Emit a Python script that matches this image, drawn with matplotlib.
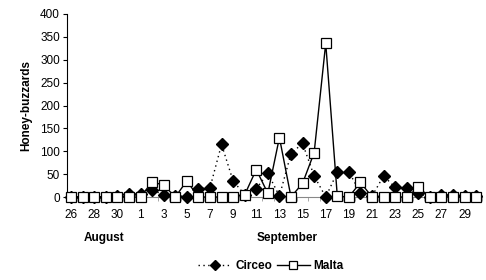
import matplotlib
matplotlib.use("Agg")
import matplotlib.pyplot as plt
import numpy as np

days = [26, 27, 28, 29, 30, 31] + list(range(1, 31))
circeo = [0, 0, 0, 0, 3, 7, 7, 15, 5, 3, 0, 18, 20, 115, 35, 5, 18, 52, 2, 95,
          117, 46, 0, 54, 55, 9, 2, 46, 21, 20, 8, 0, 5, 5, 3, 2]
malta = [0, 0, 0, 0, 0, 0, 0, 33, 26, 0, 35, 0, 0, 0, 0, 5, 60, 8, 130, 0,
         30, 97, 336, 2, 0, 32, 0, 0, 0, 0, 21, 0, 0, 0, 0, 0]
tick_labels = [str(d) for d in days]
months = ["August", "September"]
yticks = [0, 50, 100, 150, 200, 250, 300, 350, 400]

plt.rcParams['font.family'] = ['Liberation Sans', 'DejaVu Sans']

fig = plt.figure(figsize=(4.86, 2.80), dpi=100)
ax = fig.add_axes([67/486, 1 - 197/280, (482-67)/486, (197-14)/280])

x = np.arange(len(days))
ax.plot(x, circeo, linestyle=(0, (1, 2.5)), color='black', linewidth=1.0,
        marker='D', markersize=6.5, markerfacecolor='black', markeredgecolor='black',
        clip_on=False, zorder=3, label='Circeo')
ax.plot(x, malta, linestyle='-', color='black', linewidth=1.0,
        marker='s', markersize=7, markerfacecolor='white', markeredgecolor='black',
        markeredgewidth=0.9, clip_on=False, zorder=4, label='Malta')

ax.set_xlim(-0.35, 35.5)
ax.set_ylim(0, 400)
ax.set_yticks(yticks)
ax.set_yticklabels([str(v) for v in yticks], fontsize=8.5)
ax.set_xticks(x[::2])
ax.set_xticklabels(tick_labels[::2], fontsize=8.5)
ax.set_xticks(x + 0.5, minor=True)
ax.tick_params(axis='x', which='major', length=0, pad=9)
ax.tick_params(axis='x', which='minor', length=3, color='#999999', direction='out')
ax.tick_params(axis='y', length=3, direction='out', pad=2)

for s in ['top', 'right']:
    ax.spines[s].set_visible(False)
ax.spines['bottom'].set_color('#888888')
ax.spines['left'].set_color('black')

ax.set_ylabel('Honey-buzzards', fontsize=8.5, fontweight='bold', labelpad=6)

fig.text(104/486, 1 - 238/280, months[0], fontsize=8.5, fontweight='bold', ha='center', va='center')
fig.text(287/486, 1 - 238/280, months[1], fontsize=8.5, fontweight='bold', ha='center', va='center')

leg = fig.legend(loc='center', bbox_to_anchor=(271/486, 1 - 266/280), ncol=2, frameon=False,
                 prop={'weight': 'bold', 'size': 8.5}, handlelength=2.8, columnspacing=0.4,
                 handletextpad=0.3, markerscale=0.8)

fig.savefig('out.png', dpi=100)
